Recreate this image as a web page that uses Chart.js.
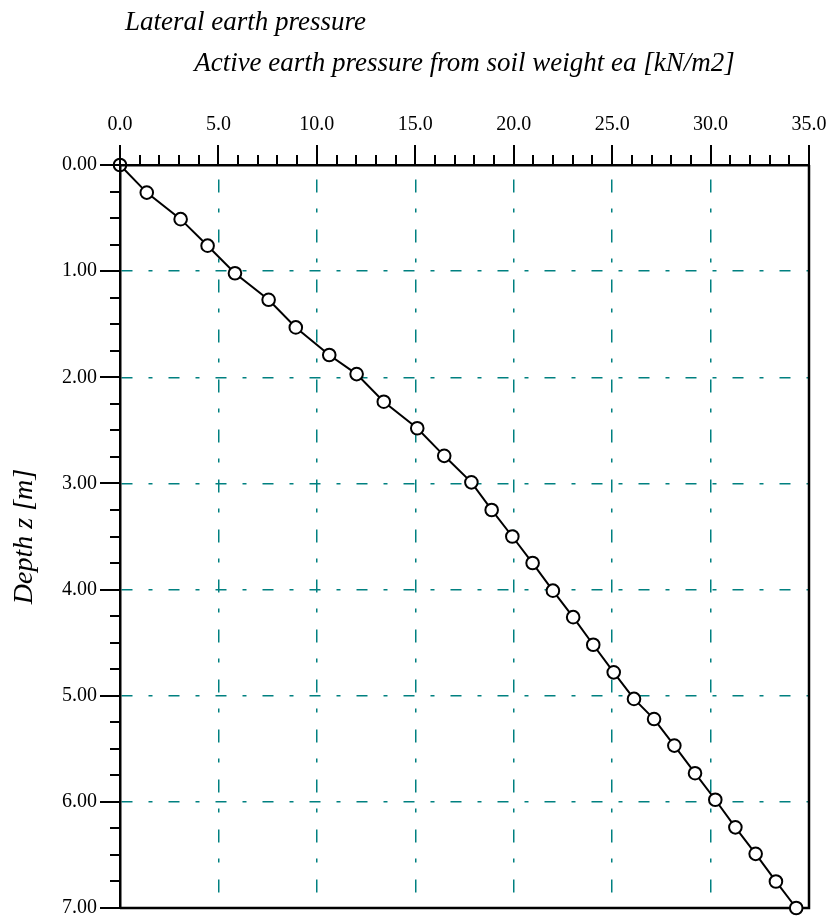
<!DOCTYPE html>
<html>
<head>
<meta charset="utf-8">
<script src="https://cdn.jsdelivr.net/npm/chart.js@4"></script>
<style>
  html, body { margin: 0; padding: 0; background: #fff; }
  #wrap { position: relative; width: 829px; height: 917px; }
  #chart { position: absolute; left: 0; top: 0; }
  #title1 { position: absolute; left: 125px; top: 8px; font: italic 27px/27px "Liberation Serif", "Times New Roman", serif; color: #000; white-space: nowrap; }
</style>
</head>
<body>
<div id="wrap">
  <canvas id="chart" width="829" height="917"></canvas>
  <div id="title1">Lateral earth pressure</div>
</div>
<script>
// ---- data ----
const depthZ = [0, 0.26, 0.51, 0.76, 1.02, 1.27, 1.53, 1.79, 1.97, 2.23, 2.48, 2.74, 2.99, 3.25, 3.50, 3.75, 4.01, 4.26, 4.52, 4.78, 5.03, 5.22, 5.47, 5.73, 5.98, 6.24, 6.49, 6.75, 7.00];
const earthPressure = [0, 1.36, 3.08, 4.45, 5.84, 7.55, 8.93, 10.63, 12.02, 13.40, 15.10, 16.47, 17.85, 18.88, 19.93, 20.96, 21.99, 23.02, 24.04, 25.08, 26.11, 27.13, 28.16, 29.21, 30.24, 31.26, 32.29, 33.32, 34.35];
const xRange = [0, 35];
const yRange = [0, 7];
const xTitle = 'Active earth pressure from soil weight ea [kN/m2]';
const yTitle = 'Depth z [m]';

const FONT = '"Liberation Serif", "Times New Roman", serif';
const GRID = '#008080';

const points = depthZ.map((d, i) => ({ x: earthPressure[i], y: d }));

const frameTicks = {
  id: 'frameTicks',
  beforeDatasetsDraw(chart) {
    const { ctx, chartArea: a } = chart;
    ctx.save();
    ctx.strokeStyle = '#000';
    ctx.lineWidth = 2.5;
    ctx.beginPath();
    ctx.moveTo(a.right, a.top);
    ctx.lineTo(a.right, a.bottom);
    ctx.lineTo(a.left, a.bottom);
    ctx.stroke();
    ctx.restore();
  },
  afterDraw(chart) {
    const { ctx, chartArea: a, scales } = chart;
    const xs = scales.x, ys = scales.y;
    ctx.save();
    ctx.strokeStyle = '#000';
    ctx.lineWidth = 2;
    ctx.beginPath();
    for (let v = xRange[0]; v <= xRange[1]; v += 1) {
      const px = Math.round(xs.getPixelForValue(v));
      const len = v % 5 === 0 ? 20 : 10;
      ctx.moveTo(px, a.top);
      ctx.lineTo(px, a.top - len);
    }
    for (let k = 0; k <= (yRange[1] - yRange[0]) * 4; k++) {
      const v = yRange[0] + k * 0.25;
      const py = Math.round(ys.getPixelForValue(v));
      const len = k % 4 === 0 ? 20 : 10;
      ctx.moveTo(a.left, py);
      ctx.lineTo(a.left - len, py);
    }
    ctx.stroke();
    ctx.restore();
  }
};

new Chart(document.getElementById('chart'), {
  type: 'scatter',
  data: {
    datasets: [{
      data: points,
      showLine: true,
      borderColor: '#000',
      borderWidth: 2,
      pointRadius: 6.3,
      pointHoverRadius: 6.3,
      pointBackgroundColor: '#fff',
      pointBorderColor: '#000',
      pointBorderWidth: 2,
      clip: false,
      tension: 0
    }]
  },
  options: {
    responsive: false,
    animation: false,
    devicePixelRatio: 1,
    layout: { padding: { top: 0, right: 20, bottom: 9, left: 0 } },
    plugins: { legend: { display: false }, tooltip: { enabled: false }, title: { display: false } },
    scales: {
      x: {
        type: 'linear',
        position: 'top',
        min: xRange[0],
        max: xRange[1],
        afterFit(s) { s.height = 165; s.paddingLeft = 0; s.paddingRight = 0; },
        ticks: {
          stepSize: 5,
          padding: 8,
          color: '#000',
          font: { family: FONT, size: 20 },
          callback: v => Number(v).toFixed(1)
        },
        grid: { color: GRID, lineWidth: 1.5, drawTicks: true, tickLength: 20, tickColor: 'rgba(0,0,0,0)' },
        border: { display: true, color: '#000', width: 2.5, dash: [13, 16, 4, 17], dashOffset: 37, z: 1 },
        title: { display: true, text: xTitle, color: '#000', font: { family: FONT, size: 27, style: 'italic' }, padding: { top: 48, bottom: 0 } }
      },
      y: {
        type: 'linear',
        position: 'left',
        reverse: true,
        min: yRange[0],
        max: yRange[1],
        afterFit(s) { s.width = 120; s.paddingTop = 0; s.paddingBottom = 0; },
        ticks: {
          stepSize: 1,
          padding: 3,
          color: '#000',
          font: { family: FONT, size: 20 },
          callback: v => Number(v).toFixed(2)
        },
        grid: { color: GRID, lineWidth: 1.5, drawTicks: true, tickLength: 20, tickColor: 'rgba(0,0,0,0)' },
        border: { display: true, color: '#000', width: 2.5, dash: [11, 16, 4, 16], dashOffset: 0, z: 1 },
        title: { display: true, text: yTitle, color: '#000', font: { family: FONT, size: 28, style: 'italic' }, padding: { top: 8, bottom: 0 } }
      }
    }
  },
  plugins: [frameTicks]
});
</script>
</body>
</html>
